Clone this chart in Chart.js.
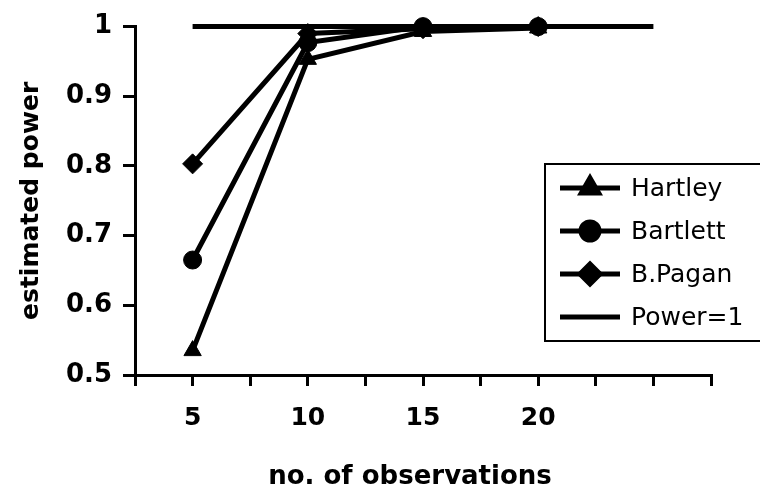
<!DOCTYPE html>
<html>
<head>
<meta charset="utf-8">
<title>estimated power</title>
<script src="https://cdn.jsdelivr.net/npm/chart.js@4/dist/chart.umd.min.js"></script>
<style>
    html, body { margin: 0; padding: 0; background: #fff; }
    #wrap { width: 760px; height: 500px; }
</style>
</head>
<body>
<div id="wrap"><canvas id="powerChart" width="760" height="500"></canvas></div>
<script>
// ===============================
// Datos
// ===============================
const observaciones = [5, 10, 15, 20];
const hartley = [0.535, 0.953, 0.993, 0.998];
const bartlett = [0.665, 0.977, 1.0, 1.0];
const bPagan = [0.803, 0.99, 0.997, 1.0];
const powerX = [5, 25];
const powerY = [1, 1];
const xTickLabels = [5, 10, 15, 20];
const yTicks = [0.5, 0.6, 0.7, 0.8, 0.9, 1];
const xTitle = 'no. of observations';

const FONT = '"DejaVu Sans", "Liberation Sans", Arial, sans-serif';
const INK = '#000';

const toPoints = (xs, ys) => xs.map((x, i) => ({ x, y: ys[i] }));

/**
 * Leyenda dibujada a mano, con borde, encima del área del gráfico (como en Excel),
 * y el título del eje X (un poco corrido a la izquierda, como en el original).
 */
const floatingLegend = {
    id: 'floatingLegend',
    afterDraw(chart) {
        const ctx = chart.ctx;
        const box = { left: 545, top: 164, right: 764, bottom: 341 };
        ctx.save();
        ctx.fillStyle = '#fff';
        ctx.fillRect(box.left, box.top, box.right - box.left, box.bottom - box.top);
        ctx.strokeStyle = INK;
        ctx.lineWidth = 2;
        ctx.strokeRect(box.left, box.top, box.right - box.left, box.bottom - box.top);

        chart.data.datasets.forEach((ds, i) => {
            const y = 188 + i * 43;
            ctx.strokeStyle = INK;
            ctx.fillStyle = INK;
            ctx.lineWidth = ds.borderWidth;
            ctx.beginPath();
            ctx.moveTo(560, y);
            ctx.lineTo(620, y);
            ctx.stroke();
            if (ds.pointRadius > 0) {
                Chart.helpers.drawPoint(ctx, {
                    pointStyle: ds.pointStyle,
                    radius: ds.pointRadius,
                    rotation: 0,
                    borderWidth: 1
                }, 590, y);
            }
            ctx.font = '25px ' + FONT;
            ctx.textBaseline = 'middle';
            ctx.textAlign = 'left';
            ctx.fillText(ds.label, 631, y + 1);
        });

        // título del eje X
        ctx.fillStyle = INK;
        ctx.font = 'bold 26px ' + FONT;
        ctx.textAlign = 'center';
        ctx.textBaseline = 'middle';
        ctx.fillText(xTitle, 410, 477);
        ctx.restore();
    }
};

const serie = (label, ys, pointStyle, radius) => ({
    label,
    data: toPoints(observaciones, ys),
    showLine: true,
    borderColor: INK,
    backgroundColor: INK,
    borderWidth: 5,
    pointStyle,
    pointRadius: radius,
    pointBorderWidth: 1,
    pointBackgroundColor: INK,
    pointBorderColor: INK,
    clip: false
});

window.powerChart = new Chart(document.getElementById('powerChart'), {
    type: 'scatter',
    data: {
        datasets: [
            serie('Hartley', hartley, 'triangle', 10),
            serie('Bartlett', bartlett, 'circle', 9),
            serie('B.Pagan', bPagan, 'rectRot', 10),
            {
                label: 'Power=1',
                data: toPoints(powerX, powerY),
                showLine: true,
                borderColor: INK,
                borderWidth: 5,
                pointRadius: 0,
                clip: false
            }
        ]
    },
    options: {
        responsive: false,
        animation: false,
        layout: { padding: { top: 20, right: 49, left: 0, bottom: 0 } },
        plugins: {
            legend: { display: false },
            tooltip: { enabled: false }
        },
        scales: {
            x: {
                type: 'linear',
                min: 2.5,
                max: 27.5,
                afterBuildTicks: axis => {
                    axis.ticks = [];
                    for (let v = 2.5; v <= 27.5; v += 2.5) axis.ticks.push({ value: v });
                },
                afterFit: axis => { axis.height = 125; },
                border: { color: INK, width: 3 },
                grid: { drawOnChartArea: false, color: INK, lineWidth: 3, tickLength: 11 },
                ticks: {
                    color: INK,
                    padding: 17,
                    maxRotation: 0,
                    autoSkip: false,
                    font: { family: FONT, size: 25, weight: 'bold' },
                    callback: v => xTickLabels.includes(v) ? String(v) : ''
                }
            },
            y: {
                min: 0.5,
                max: 1,
                afterBuildTicks: axis => { axis.ticks = yTicks.map(v => ({ value: v })); },
                afterFit: axis => { axis.width = 135; },
                border: { color: INK, width: 3 },
                grid: { drawOnChartArea: false, color: INK, lineWidth: 3, tickLength: 12 },
                ticks: {
                    color: INK,
                    padding: 11,
                    font: { family: FONT, size: 26, weight: 'bold' },
                    callback: v => String(Number(v.toFixed(1)))
                },
                title: {
                    display: true,
                    text: 'estimated power',
                    color: INK,
                    font: { family: FONT, size: 25, weight: 'bold' },
                    padding: { top: 16, bottom: 0 }
                }
            }
        }
    },
    plugins: [floatingLegend]
});
</script>
</body>
</html>
